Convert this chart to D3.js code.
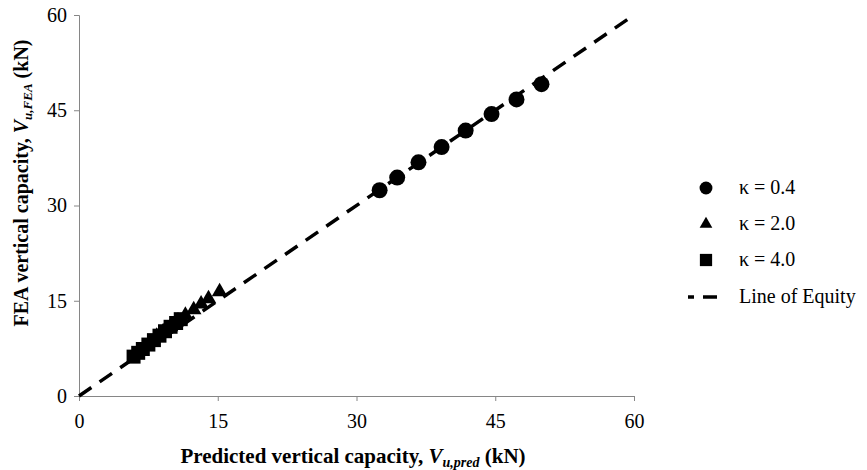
<!DOCTYPE html>
<html>
<head>
<meta charset="utf-8">
<script src="https://cdn.jsdelivr.net/npm/d3@7"></script>
<style>
  body { margin: 0; background: #fff; }
  svg text { font-family: "Liberation Serif", "DejaVu Serif", "Times New Roman", serif; fill: #000; }
  .axis path, .axis line { stroke: #868686; stroke-width: 1; }
  .title { font-weight: bold; }
</style>
</head>
<body>
<script>
// Size
var w = 867,
    h = 470,
    fontSize = 20;

// Data
var circleX = [32.5, 34.4, 36.7, 39.2, 41.8, 44.6, 47.3, 50.0];
var circleY = [32.4, 34.4, 36.8, 39.2, 41.8, 44.4, 46.7, 49.1];

var triangleX = [8.4, 9.1, 9.9, 10.7, 11.5, 12.4, 13.2, 14.0, 15.2];
var triangleY = [9.4, 10.1, 10.9, 11.8, 12.7, 13.6, 14.5, 15.3, 16.4];

var squareX = [5.9, 6.4, 6.9, 7.5, 8.1, 8.7, 9.3, 9.9, 10.5, 11.0];
var squareY = [6.2, 6.8, 7.4, 8.1, 8.8, 9.5, 10.2, 10.9, 11.5, 12.1];

var equityLine = [0, 60];
var tickValues = [0, 15, 30, 45, 60];

var legendLabels = ['\u03ba = 0.4', '\u03ba = 2.0', '\u03ba = 4.0', 'Line of Equity'];

// Scales
var xScale = d3.scaleLinear()
               .domain([0, 60])
               .range([79, 634]);

var yScale = d3.scaleLinear()
               .domain([0, 60])
               .range([396, 15]);

var svg = d3.select('body')
            .append('svg')
            .attr('width', w)
            .attr('height', h);

// Axes
var xAxis = d3.axisBottom(xScale)
              .tickValues(tickValues)
              .tickSizeInner(5)
              .tickSizeOuter(5)
              .tickPadding(13);

var yAxis = d3.axisLeft(yScale)
              .tickValues(tickValues)
              .tickSizeInner(5)
              .tickSizeOuter(5)
              .tickPadding(7);

svg.append('g')
   .attr('class', 'axis')
   .attr('transform', 'translate(0,' + yScale(0) + ')')
   .call(xAxis);

svg.append('g')
   .attr('class', 'axis')
   .attr('transform', 'translate(' + xScale(0) + ',0)')
   .call(yAxis);

svg.selectAll('.axis')
   .attr('font-family', null)
   .attr('font-size', fontSize);

// Line of equity
var line = d3.line()
             .x(function(d) { return xScale(d); })
             .y(function(d) { return yScale(d); });

svg.append('path')
   .datum(equityLine)
   .attr('d', line)
   .attr('fill', 'none')
   .attr('stroke', '#000')
   .attr('stroke-width', 3.5)
   .attr('stroke-dasharray', '15,10');

// Markers
function zip(xs, ys) {
  return xs.map(function(x, i) { return { x: x, y: ys[i] }; });
}

var series = [
  { data: zip(circleX, circleY), type: d3.symbolCircle, size: 200 },
  { data: zip(triangleX, triangleY), type: d3.symbolTriangle, size: 105 },
  { data: zip(squareX, squareY), type: d3.symbolSquare, size: 196 }
];

series.forEach(function(s) {
  svg.append('g')
     .selectAll('path')
     .data(s.data)
     .enter()
     .append('path')
     .attr('transform', function(d) {
       return 'translate(' + xScale(d.x) + ',' + yScale(d.y) + ')';
     })
     .attr('d', d3.symbol().type(s.type).size(s.size))
     .attr('fill', '#000');
});

// Axis titles
var xTitle = svg.append('text')
                .attr('class', 'title')
                .attr('x', 353)
                .attr('y', 463)
                .attr('font-size', 21)
                .attr('text-anchor', 'middle');
xTitle.append('tspan').text('Predicted vertical capacity, ');
xTitle.append('tspan').attr('font-style', 'italic').text('V');
xTitle.append('tspan').attr('font-style', 'italic').attr('font-size', 14).attr('dy', 4).text('u,pred');
xTitle.append('tspan').attr('dy', -4).text(' (kN)');

var yTitle = svg.append('text')
                .attr('class', 'title')
                .attr('transform', 'translate(28,' + 183 + ') rotate(-90)')
                .attr('font-size', fontSize)
                .attr('text-anchor', 'middle');
yTitle.append('tspan').text('FEA vertical capacity, ');
yTitle.append('tspan').attr('font-style', 'italic').text('V');
yTitle.append('tspan').attr('font-style', 'italic').attr('font-size', 13).attr('dy', 4).text('u,FEA');
yTitle.append('tspan').attr('dy', -4).text(' (kN)');

// Legend
var legend = svg.append('g');
var legendY = [188, 224, 260, 297];
var legendSymbols = [
  { type: d3.symbolCircle, size: 130 },
  { type: d3.symbolTriangle, size: 70 },
  { type: d3.symbolSquare, size: 150 }
];

legendSymbols.forEach(function(s, i) {
  legend.append('path')
        .attr('transform', 'translate(706,' + legendY[i] + ')')
        .attr('d', d3.symbol().type(s.type).size(s.size))
        .attr('fill', '#000');
});

legend.append('line')
      .attr('x1', 688)
      .attr('x2', 723)
      .attr('y1', legendY[3])
      .attr('y2', legendY[3])
      .attr('stroke', '#000')
      .attr('stroke-width', 3.5)
      .attr('stroke-dasharray', '6,9,14');

legend.selectAll('text')
      .data(legendLabels)
      .enter()
      .append('text')
      .attr('x', 739)
      .attr('y', function(d, i) { return legendY[i] + 6; })
      .attr('font-size', fontSize)
      .text(function(d) { return d; });
</script>
</body>
</html>
